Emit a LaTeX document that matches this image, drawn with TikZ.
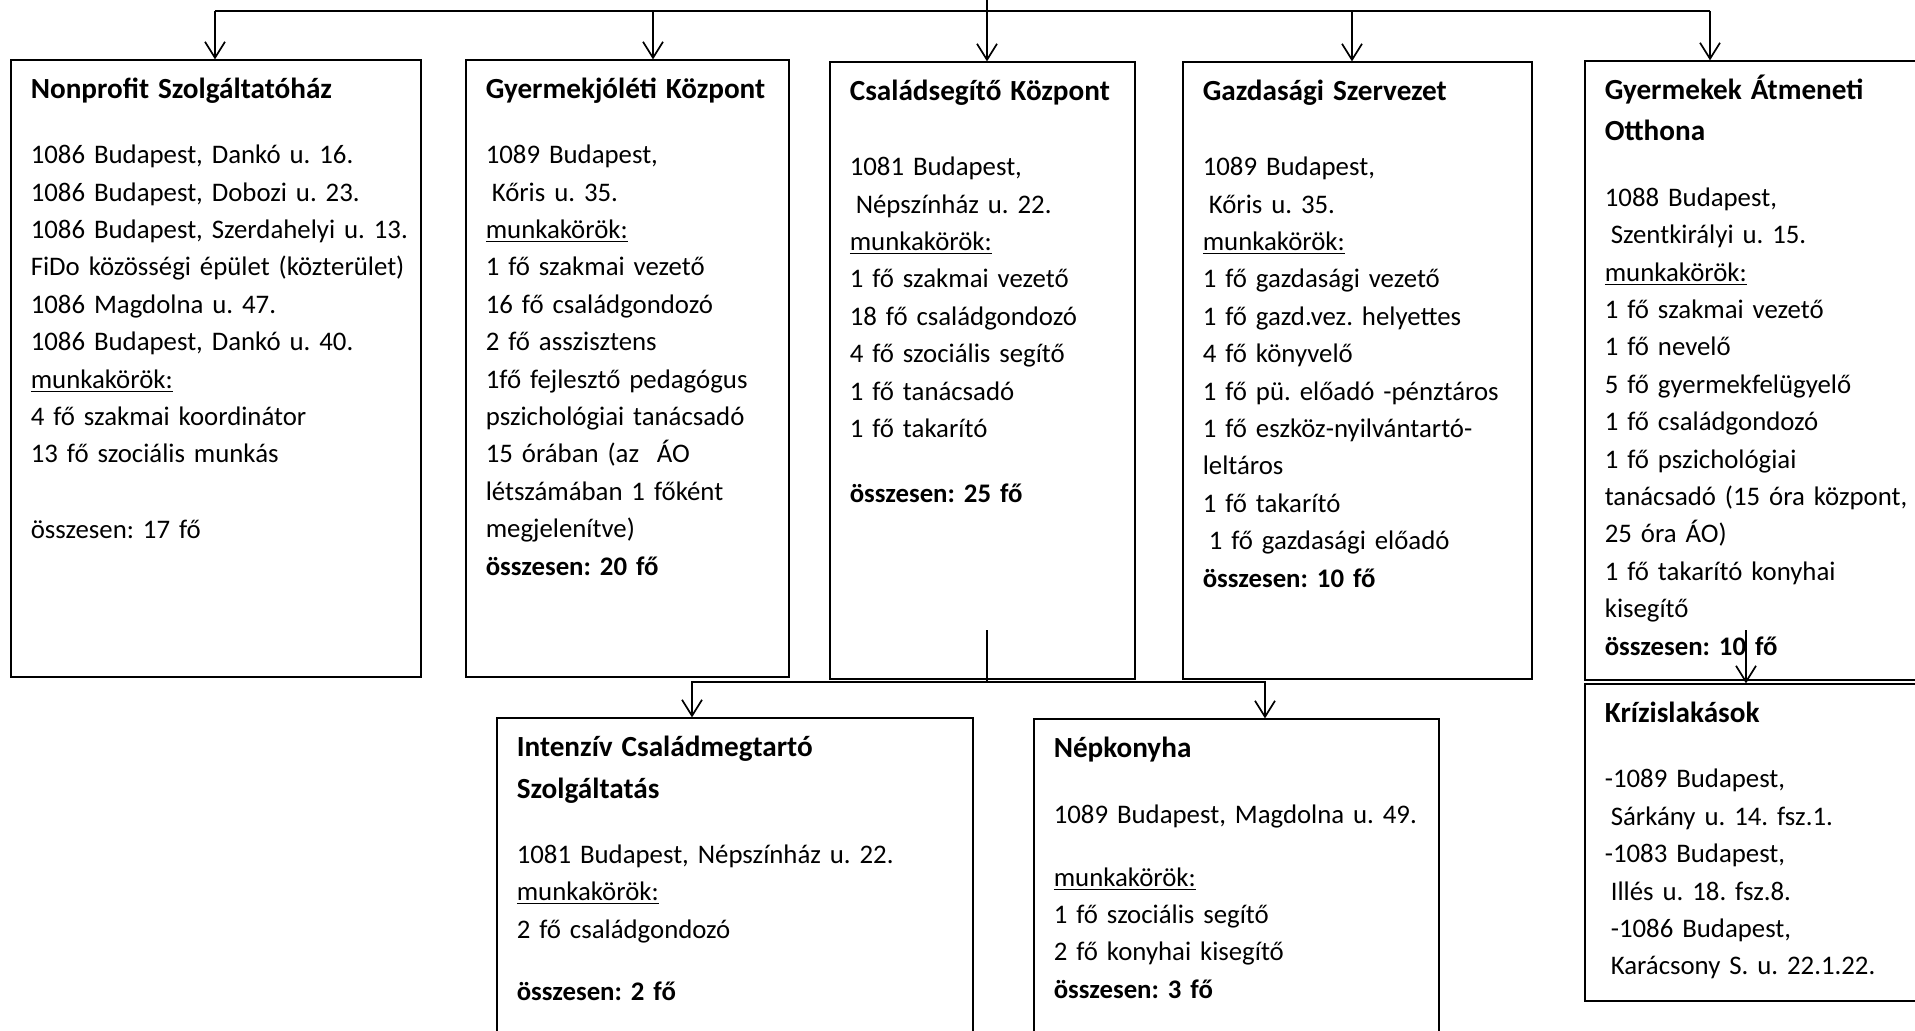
\documentclass[tikz,border=0pt]{standalone}
\usepackage{fontspec}
\setmainfont{Carlito}
\usepackage{tikz}
\usetikzlibrary{calc,fit,arrows.meta,positioning}
\frenchspacing

\newcommand{\bodyfont}{\fontsize{13.4pt}{18.7pt}\selectfont}
\newcommand{\ttlfont}{\fontsize{14.6pt}{20.8pt}\selectfont\bfseries}
\newcommand{\lsp}{\hspace*{3pt}}
\newcommand{\mk}{\underline{munkakörök:}}

\tikzset{
  unit/.style={draw, line width=0.6pt, inner sep=0pt},
  unittext/.style={anchor=base west, inner sep=0pt, text width=12cm, align=left, font=\bodyfont},
  link/.style={line width=0.85pt},
  bus/.style={line width=1.3pt},
  arr/.style={link, -{Straight Barb[length=8pt,width=10pt]}}
}

\begin{document}
\begin{tikzpicture}[x=0.5pt, y=-0.5pt]
  \clip (0,0) rectangle (1915,1031);
  \fill[white] (0,0) rectangle (1915,1031);

  \node[unit, fit={(11,60) (421,677)}] (nonprofit) {};
  \node[unit, fit={(466,60) (789,677)}] (gyjol) {};
  \node[unit, fit={(830,62) (1135,679)}] (csalad) {};
  \node[unit, fit={(1183,62) (1532,679)}] (gazd) {};
  \node[unit, fit={(1585,61) (1935,680)}] (atmen) {};
  \node[unit, fit={(1585,684) (1935,1001)}] (krizis) {};
  \node[unit, fit={(497,718) (973,1045)}] (intenz) {};
  \node[unit, fit={(1034,719) (1439,1045)}] (nepk) {};

  \node[unittext] (nonprofit-t) at ([shift={(20,39)}]nonprofit.north west) {%
    {\ttlfont Nonprofit Szolgáltatóház\par}\vspace{14pt}
    1086 Budapest, Dankó u. 16.\\
    1086 Budapest, Dobozi u. 23.\\
    1086 Budapest, Szerdahelyi u. 13.\\
    FiDo közösségi épület (közterület)\\
    1086 Magdolna u. 47.\\
    1086 Budapest, Dankó u. 40.\\
    \mk\\
    4 fő szakmai koordinátor\\
    13 fő szociális munkás\\[19pt]
    összesen: 17 fő};
  \node[unittext] (gyjol-t) at ([shift={(20,39)}]gyjol.north west) {%
    {\ttlfont Gyermekjóléti Központ\par}\vspace{14pt}
    1089 Budapest,\\
    \lsp Kőris u. 35.\\
    \mk\\
    1 fő szakmai vezető\\
    16 fő családgondozó\\
    2 fő asszisztens\\
    1fő fejlesztő pedagógus\\
    pszichológiai tanácsadó\\
    15 órában (az \ ÁO\\
    létszámában 1 főként\\
    megjelenítve)\\
    \textbf{összesen: 20 fő}};
  \node[unittext] (csalad-t) at ([shift={(20,39)}]csalad.north west) {%
    {\ttlfont Családsegítő Központ\par}\vspace{19pt}
    1081 Budapest,\\
    \lsp Népszínház u. 22.\\
    \mk\\
    1 fő szakmai vezető\\
    18 fő családgondozó\\
    4 fő szociális segítő\\
    1 fő tanácsadó\\
    1 fő takarító\\[13.7pt]
    \textbf{összesen: 25 fő}};
  \node[unittext] (gazd-t) at ([shift={(20,39)}]gazd.north west) {%
    {\ttlfont Gazdasági Szervezet\par}\vspace{19pt}
    1089 Budapest,\\
    \lsp Kőris u. 35.\\
    \mk\\
    1 fő gazdasági vezető\\
    1 fő gazd.vez. helyettes\\
    4 fő könyvelő\\
    1 fő pü. előadó -pénztáros\\
    1 fő eszköz-nyilvántartó-\\
    leltáros\\
    1 fő takarító\\
    \lsp 1 fő gazdasági előadó\\
    \textbf{összesen: 10 fő}};
  \node[unittext] (atmen-t) at ([shift={(20,39)}]atmen.north west) {%
    {\ttlfont Gyermekek Átmeneti\\Otthona\par}\vspace{14pt}
    1088 Budapest,\\
    \lsp Szentkirályi u. 15.\\
    \mk\\
    1 fő szakmai vezető\\
    1 fő nevelő\\
    5 fő gyermekfelügyelő\\
    1 fő családgondozó\\
    1 fő pszichológiai\\
    tanácsadó (15 óra központ,\\
    25 óra ÁO)\\
    1 fő takarító konyhai\\
    kisegítő\\
    \textbf{összesen: 10 fő}};
  \node[unittext] (krizis-t) at ([shift={(20,39)}]krizis.north west) {%
    {\ttlfont Krízislakások\par}\vspace{14pt}
    -1089 Budapest,\\
    \lsp Sárkány u. 14. fsz.1.\\
    -1083 Budapest,\\
    \lsp Illés u. 18. fsz.8.\\
    \lsp -1086 Budapest,\\
    \lsp Karácsony S. u. 22.1.22.};
  \node[unittext] (intenz-t) at ([shift={(20,39)}]intenz.north west) {%
    {\ttlfont Intenzív Családmegtartó\\Szolgáltatás\par}\vspace{14pt}
    1081 Budapest, Népszínház u. 22.\\
    \mk\\
    2 fő családgondozó\\[12.4pt]
    \textbf{összesen: 2 fő}};
  \node[unittext] (nepk-t) at ([shift={(20,39)}]nepk.north west) {%
    {\ttlfont Népkonyha\par}\vspace{14.5pt}
    1089 Budapest, Magdolna u. 49.\\[12.4pt]
    \mk\\
    1 fő szociális segítő\\
    2 fő konyhai kisegítő\\
    \textbf{összesen: 3 fő}};

  \foreach \n/\x in {nonprofit/215, gyjol/653, gazd/1352, atmen/1710}{
    \coordinate (top-\n) at (\x,11);
    \draw[arr] (top-\n) -- (top-\n |- \n.north);
  }
  \draw[bus] (top-nonprofit) -- (top-atmen);
  \coordinate (root) at (987,0);
  \draw[arr] (root) -- (root |- csalad.north);

  \coordinate (cs-out) at (987,630);
  \coordinate (split) at (987,682);
  \coordinate (j1) at (692,682);
  \coordinate (j2) at (1265,682);
  \draw[link] (cs-out) -- (split);
  \draw[arr] (split) -- (j1) -- (j1 |- intenz.north);
  \draw[arr] (split) -- (j2) -- (j2 |- nepk.north);

  \coordinate (atm-out) at (1746,630);
  \draw[arr] (atm-out) -- (atm-out |- krizis.north);
\end{tikzpicture}
\end{document}
